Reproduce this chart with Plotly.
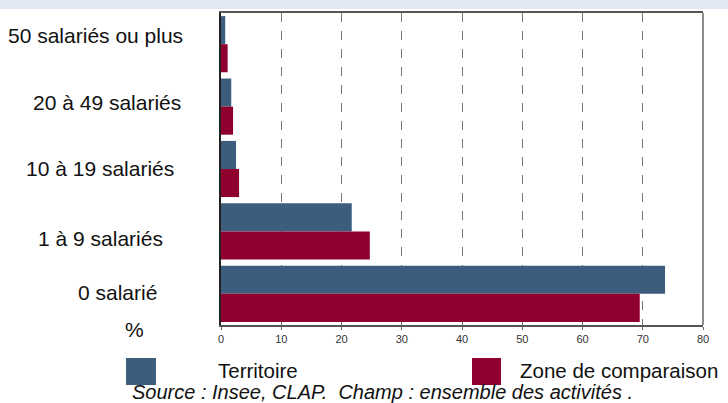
import plotly.graph_objects as go

# ---- data ----
categories = ["50 salariés ou plus", "20 à 49 salariés", "10 à 19 salariés", "1 à 9 salariés", "0 salarié"]
territoire = [0.7, 1.7, 2.5, 21.7, 73.7]
zone_comparaison = [1.1, 2.0, 3.0, 24.7, 69.5]
series_names = ["Territoire", "Zone de comparaison"]
x_ticks = [0, 10, 20, 30, 40, 50, 60, 70, 80]
unit_label = "%"
source_text = "Source : Insee, CLAP.  Champ : ensemble des activités ."

# ---- style / layout ----
W, H = 728, 403
L, R, T, B = 221, 703, 13, 325
BLUE = "#3d5d7d"
RED = "#8f002f"
FONT = "Liberation Sans, Arial, sans-serif"
FS = 21

def px(xp):
    return (xp - L) / (R - L)

def py(yp):
    return (B - yp) / (B - T)

label_pos = [(96, 36), (107, 102), (100, 168), (100, 238), (117, 292)]

fig = go.Figure()
fig.add_trace(go.Bar(y=categories, x=territoire, name=series_names[0], orientation="h",
                     marker=dict(color=BLUE, line=dict(width=0))))
fig.add_trace(go.Bar(y=categories, x=zone_comparaison, name=series_names[1], orientation="h",
                     marker=dict(color=RED, line=dict(width=0))))

annotations = []
for cat, (lx, ly) in zip(categories, label_pos):
    annotations.append(dict(text=cat, xref="paper", yref="paper", x=px(lx), y=py(ly),
                            xanchor="center", yanchor="middle", showarrow=False,
                            font=dict(size=FS, color="#111", family=FONT)))
annotations.append(dict(text=unit_label, xref="paper", yref="paper", x=px(134), y=py(329),
                        xanchor="center", yanchor="middle", showarrow=False,
                        font=dict(size=FS, color="#111", family=FONT)))
annotations.append(dict(text=series_names[0], xref="paper", yref="paper", x=px(216), y=py(370.5),
                        xanchor="left", yanchor="middle", showarrow=False,
                        font=dict(size=20.5, color="#111", family=FONT)))
annotations.append(dict(text=series_names[1], xref="paper", yref="paper", x=px(518), y=py(370.5),
                        xanchor="left", yanchor="middle", showarrow=False,
                        font=dict(size=20.5, color="#111", family=FONT)))
annotations.append(dict(text="<i>" + source_text.replace("  ", " &nbsp;") + "</i>", xref="paper", yref="paper",
                        x=px(382), y=py(392.5), xanchor="center", yanchor="middle", showarrow=False,
                        font=dict(size=20, color="#111", family=FONT)))

shapes = [
    # top light band
    dict(type="rect", xref="paper", yref="paper", x0=px(0), x1=px(W), y0=py(9), y1=py(0),
         fillcolor="#dfe8f3", line=dict(width=0), layer="below"),
    # right border
    dict(type="line", xref="paper", yref="paper", x0=1, x1=1, y0=0, y1=1,
         line=dict(color="#666", width=1.5)),
    # legend swatches
    dict(type="rect", xref="paper", yref="paper", x0=px(126), x1=px(156), y0=py(385), y1=py(358),
         fillcolor=BLUE, line=dict(width=0)),
    dict(type="rect", xref="paper", yref="paper", x0=px(472), x1=px(501), y0=py(385), y1=py(358),
         fillcolor=RED, line=dict(width=0)),
]

fig.update_layout(
    width=W, height=H,
    margin=dict(l=L, r=W - R, t=T, b=H - B, pad=0),
    paper_bgcolor="white", plot_bgcolor="white",
    barmode="group", bargap=0.1, bargroupgap=0,
    showlegend=False,
    font=dict(family=FONT),
    annotations=annotations,
    shapes=shapes,
    xaxis=dict(range=[0, 80], tickvals=x_ticks, ticktext=[str(v) for v in x_ticks],
               showgrid=True, gridcolor="#777", griddash="dash", gridwidth=1,
               zeroline=False, showline=True, linecolor="#555", linewidth=1.5, mirror=True,
               ticks="outside", ticklen=3, tickcolor="#666",
               tickfont=dict(size=11, color="#333", family=FONT), fixedrange=True),
    yaxis=dict(autorange="reversed", showticklabels=False, showgrid=False, zeroline=False,
               showline=True, linecolor="#222", linewidth=2, ticks="", fixedrange=True),
)

fig.write_html("out.html", config={"displayModeBar": False},
               post_script="document.body.style.margin='0';document.body.style.overflow='hidden';")
